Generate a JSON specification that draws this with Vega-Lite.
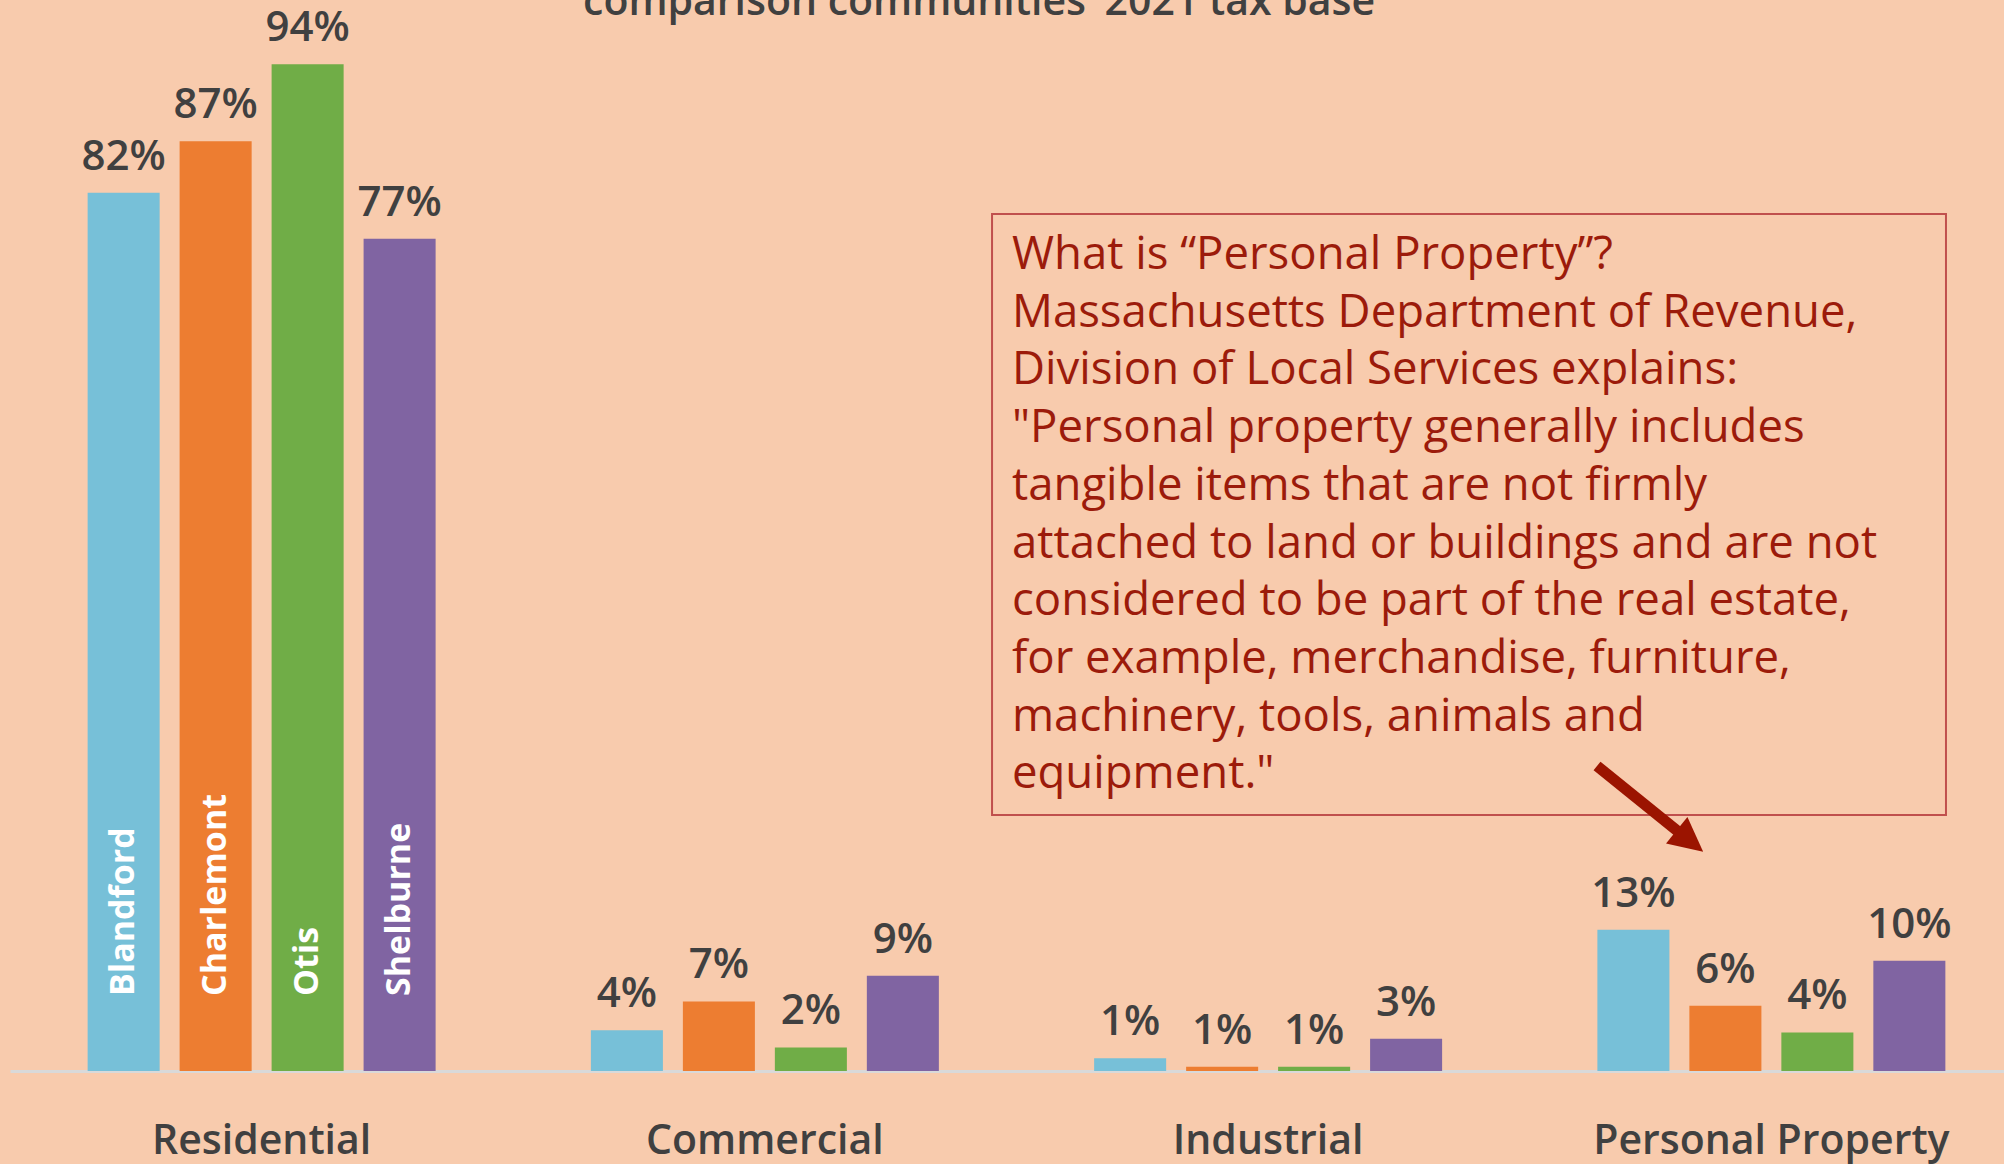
{
  "$schema": "https://vega.github.io/schema/vega-lite/v6.json",
  "width": 1994,
  "height": 1071,
  "autosize": {"type": "none"},
  "padding": {"left": 10, "top": 0, "right": 0, "bottom": 93},
  "background": "#F8CBAD",
  "config": {"view": {"stroke": null}},
  "datasets": {
    "bars": [
      {"category": "Residential", "town": "Blandford", "value": 0.820, "label": "82%"},
      {"category": "Residential", "town": "Charlemont", "value": 0.868, "label": "87%"},
      {"category": "Residential", "town": "Otis", "value": 0.940, "label": "94%"},
      {"category": "Residential", "town": "Shelburne", "value": 0.777, "label": "77%"},
      {"category": "Commercial", "town": "Blandford", "value": 0.038, "label": "4%"},
      {"category": "Commercial", "town": "Charlemont", "value": 0.065, "label": "7%"},
      {"category": "Commercial", "town": "Otis", "value": 0.022, "label": "2%"},
      {"category": "Commercial", "town": "Shelburne", "value": 0.089, "label": "9%"},
      {"category": "Industrial", "town": "Blandford", "value": 0.012, "label": "1%"},
      {"category": "Industrial", "town": "Charlemont", "value": 0.004, "label": "1%"},
      {"category": "Industrial", "town": "Otis", "value": 0.004, "label": "1%"},
      {"category": "Industrial", "town": "Shelburne", "value": 0.030, "label": "3%"},
      {"category": "Personal Property", "town": "Blandford", "value": 0.132, "label": "13%"},
      {"category": "Personal Property", "town": "Charlemont", "value": 0.061, "label": "6%"},
      {"category": "Personal Property", "town": "Otis", "value": 0.036, "label": "4%"},
      {"category": "Personal Property", "town": "Shelburne", "value": 0.103, "label": "10%"}
    ]
  },
  "layer": [
    {
      "data": {"name": "bars"},
      "encoding": {
        "x": {
          "field": "category",
          "type": "nominal",
          "sort": ["Residential", "Commercial", "Industrial", "Personal Property"],
          "scale": {"range": [0, 2013], "paddingInner": 0, "paddingOuter": 0},
          "axis": {
            "title": null,
            "orient": "bottom",
            "ticks": false,
            "tickSize": 0,
            "grid": false,
            "domain": true,
            "domainColor": "#D9D9D9",
            "domainWidth": 3,
            "labelAngle": 0,
            "labelLimit": 0,
            "labelFont": "Open Sans",
            "labelFontWeight": 600,
            "labelFontSize": 41,
            "labelColor": "#404040",
            "labelBaseline": "alphabetic",
            "labelPadding": 82
          }
        },
        "xOffset": {
          "field": "town",
          "type": "nominal",
          "sort": ["Blandford", "Charlemont", "Otis", "Shelburne"],
          "scale": {"paddingInner": 0.217, "paddingOuter": 0.844}
        },
        "y": {"field": "value", "type": "quantitative", "scale": {"domain": [0, 1]}, "axis": null}
      },
      "layer": [
        {
          "mark": {"type": "bar"},
          "encoding": {
            "color": {
              "field": "town",
              "type": "nominal",
              "scale": {
                "domain": ["Blandford", "Charlemont", "Otis", "Shelburne"],
                "range": ["#77C0D8", "#ED7D31", "#70AD47", "#8064A2"]
              },
              "legend": null
            }
          }
        },
        {
          "mark": {
            "type": "text",
            "align": "center",
            "baseline": "alphabetic",
            "dy": -23,
            "font": "Open Sans",
            "fontWeight": 600,
            "fontSize": 42,
            "color": "#404040"
          },
          "encoding": {"text": {"field": "label"}}
        },
        {
          "transform": [{"filter": "datum.category === 'Residential'"}],
          "mark": {
            "type": "text",
            "angle": 270,
            "align": "left",
            "baseline": "middle",
            "dx": 75,
            "font": "Open Sans",
            "fontWeight": 700,
            "fontSize": 34,
            "color": "#FFFFFF"
          },
          "encoding": {
            "y": {"datum": 0, "type": "quantitative"},
            "text": {"field": "town"}
          }
        }
      ]
    },
    {
      "data": {"values": [{}]},
      "layer": [
        {
          "mark": {"type": "rect", "fillOpacity": 0, "fill": "#F8CBAD", "stroke": "#C0504D", "strokeWidth": 2},
          "encoding": {
            "x": {"datum": 49.25, "type": "quantitative", "scale": {"domain": [0, 100]}, "axis": null},
            "x2": {"datum": 97.09},
            "y": {"datum": 0.8002, "type": "quantitative", "axis": null},
            "y2": {"datum": 0.239}
          }
        },
        {
          "mark": {
            "type": "text",
            "align": "left",
            "baseline": "alphabetic",
            "font": "Open Sans",
            "fontSize": 45.5,
            "lineHeight": 57.7,
            "color": "#9C1B0B",
            "text": [
              "What is “Personal Property”?",
              "Massachusetts Department of Revenue,",
              "Division of Local Services explains:",
              "\"Personal property generally includes",
              "tangible items that are not firmly",
              "attached to land or buildings and are not",
              "considered to be part of the real estate,",
              "for example, merchandise, furniture,",
              "machinery, tools, animals and",
              "equipment.\""
            ]
          },
          "encoding": {
            "x": {"datum": 50.25, "type": "quantitative", "axis": null},
            "y": {"datum": 0.7488, "type": "quantitative", "axis": null}
          }
        },
        {
          "mark": {"type": "rule", "color": "#9B1400", "strokeWidth": 11, "strokeCap": "butt"},
          "encoding": {
            "x": {"datum": 79.59, "type": "quantitative", "axis": null},
            "x2": {"datum": 83.75},
            "y": {"datum": 0.2848, "type": "quantitative", "axis": null},
            "y2": {"datum": 0.2222}
          }
        },
        {
          "mark": {
            "type": "point",
            "shape": "M0,-1L1,1L-1,1Z",
            "filled": true,
            "size": 1156,
            "angle": 129,
            "color": "#9B1400",
            "opacity": 1,
            "strokeWidth": 0
          },
          "encoding": {
            "x": {"datum": 84.25, "type": "quantitative", "axis": null},
            "y": {"datum": 0.2148, "type": "quantitative", "axis": null}
          }
        },
        {
          "mark": {
            "type": "text",
            "align": "center",
            "baseline": "alphabetic",
            "dy": 15,
            "font": "Open Sans",
            "fontWeight": 600,
            "fontSize": 41,
            "color": "#404040",
            "text": "comparison communities’ 2021 tax base"
          },
          "encoding": {
            "x": {"datum": 48.6, "type": "quantitative", "axis": null},
            "y": {"datum": 1, "type": "quantitative", "axis": null}
          }
        }
      ]
    }
  ],
  "resolve": {"scale": {"x": "independent"}}
}
